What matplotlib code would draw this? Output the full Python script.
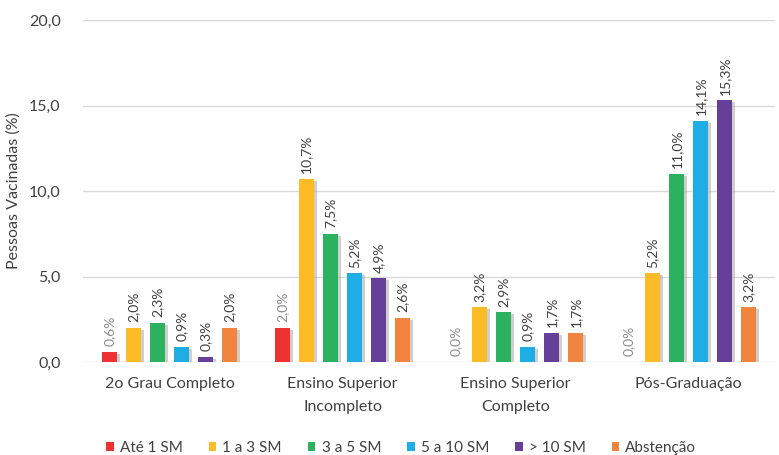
import matplotlib
matplotlib.use("Agg")
import matplotlib.pyplot as plt
import matplotlib.patheffects as pe
from matplotlib.patches import Patch
import numpy as np

plt.rcParams['font.family'] = ['Lato', 'DejaVu Sans']

categories = ["2o Grau Completo", "Ensino Superior\nIncompleto",
              "Ensino Superior\nCompleto", "Pós-Graduação"]
series_names = ["Até 1 SM", "1 a 3 SM", "3 a 5 SM", "5 a 10 SM", "> 10 SM", "Abstenção"]
ate_1 = [0.6, 2.0, 0.0, 0.0]
de_1_a_3 = [2.0, 10.7, 3.2, 5.2]
de_3_a_5 = [2.3, 7.5, 2.9, 11.0]
de_5_a_10 = [0.9, 5.2, 0.9, 14.1]
acima_10 = [0.3, 4.9, 1.7, 15.3]
abstencao = [2.0, 2.6, 1.7, 3.2]
yticks = [0, 5, 10, 15, 20]

series = [ate_1, de_1_a_3, de_3_a_5, de_5_a_10, acima_10, abstencao]
colors = ["#EE3233", "#FDBB27", "#2BB15F", "#1EAEE5", "#653F98", "#F18540"]
label_colors = ["#8C8C8C", "#404040", "#404040", "#404040", "#404040", "#404040"]

fig = plt.figure(figsize=(7.79, 4.55), dpi=100)
ax = fig.add_axes([0.1065, 0.2044, 0.8885, 0.7516])

x = np.arange(len(categories))
pitch = 0.139
width = 0.087
shadow = [pe.SimplePatchShadow(offset=(2.2, -1.5), shadow_rgbFace="#a0a0a0", alpha=0.5), pe.Normal()]

for i, (vals, col, lcol) in enumerate(zip(series, colors, label_colors)):
    pos = x + (i - 2.5) * pitch
    bars = ax.bar(pos, vals, width=width, color=col, zorder=3)
    for b in bars:
        b.set_path_effects(shadow)
    for px, v in zip(pos, vals):
        ax.annotate(f"{v:.1f}%".replace(".", ","), (px, v), xytext=(0, 4),
                    textcoords="offset points", rotation=90, ha="center", va="bottom",
                    fontsize=10, color=lcol, zorder=4)

ax.set_xlim(-0.5, len(categories) - 0.5)
ax.set_ylim(0, 20)
ax.set_yticks(yticks)
ax.set_yticklabels([f"{t:.1f}".replace(".", ",") for t in yticks], fontsize=11.5, color="#404040")
ax.set_xticks(x)
ax.set_xticklabels(categories, fontsize=11.5, color="#404040", linespacing=1.8, va="top")
ax.tick_params(axis="both", length=0)
ax.tick_params(axis="x", pad=11)
ax.tick_params(axis="y", pad=16)
ax.grid(axis="y", color="#D9D9D9", linewidth=1, zorder=0)
for s in ax.spines.values():
    s.set_visible(False)
ax.set_ylabel("Pessoas Vacinadas (%)", fontsize=11.5, color="#404040", labelpad=6)

handles = [Patch(facecolor=c, edgecolor="none") for c in colors]
fig.legend(handles, series_names, loc="center", bbox_to_anchor=(0.515, 0.0154),
           ncol=6, frameon=False, fontsize=11, handlelength=0.5, handleheight=0.5,
           handletextpad=0.4, columnspacing=1.7, labelcolor="#404040")

fig.savefig("out.png", dpi=100)
